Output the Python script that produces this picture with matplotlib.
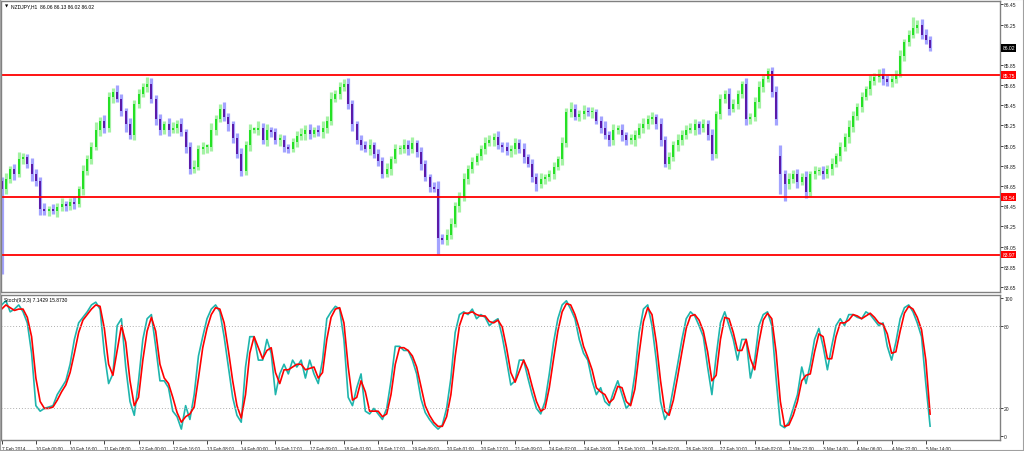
import numpy as np
import matplotlib
matplotlib.use("Agg")
import matplotlib.pyplot as plt
import matplotlib.transforms as mtransforms
from matplotlib.patches import Rectangle

plt.rcParams['font.family'] = ['Liberation Sans', 'DejaVu Sans']

# NZDJPY closes (one value per 2 hours)
closes = [
    84.62, 84.72, 84.82, 84.77, 84.92, 84.94, 84.87, 84.77,
    84.70, 84.42, 84.40, 84.42, 84.40, 84.44, 84.47, 84.45,
    84.49, 84.47, 84.62, 84.80, 84.92, 85.04, 85.21, 85.29,
    85.23, 85.53, 85.58, 85.51, 85.39, 85.26, 85.16, 85.46,
    85.56, 85.63, 85.66, 85.51, 85.31, 85.21, 85.26, 85.21,
    85.23, 85.26, 85.19, 85.04, 84.82, 84.84, 85.02, 85.04,
    85.04, 85.21, 85.31, 85.41, 85.33, 85.26, 85.13, 84.97,
    84.80, 85.06, 85.21, 85.21, 85.23, 85.11, 85.21, 85.19,
    85.11, 85.11, 85.04, 85.02, 85.09, 85.15, 85.17, 85.21,
    85.17, 85.21, 85.19, 85.23, 85.29, 85.51, 85.56, 85.63,
    85.66, 85.46, 85.26, 85.11, 85.06, 85.02, 85.06, 84.97,
    84.90, 84.77, 84.82, 84.92, 85.02, 85.02, 85.06, 85.02,
    85.08, 84.99, 84.87, 84.74, 84.64, 84.62, 84.14, 84.12,
    84.17, 84.27, 84.45, 84.54, 84.72, 84.82, 84.89, 84.95,
    85.02, 85.08, 85.11, 85.14, 85.06, 85.04, 85.00, 85.02,
    85.08, 85.02, 84.94, 84.87, 84.74, 84.67, 84.72, 84.74,
    84.77, 84.84, 84.92, 85.08, 85.38, 85.41, 85.33, 85.36,
    85.39, 85.38, 85.38, 85.29, 85.23, 85.16, 85.11, 85.21,
    85.21, 85.16, 85.11, 85.11, 85.16, 85.23, 85.26, 85.31,
    85.33, 85.26, 85.11, 84.87, 84.94, 85.06, 85.11, 85.16,
    85.21, 85.21, 85.26, 85.23, 85.26, 85.16, 84.97, 85.36,
    85.51, 85.56, 85.41, 85.46, 85.56, 85.66, 85.31, 85.33,
    85.48, 85.63, 85.71, 85.79, 85.58, 85.31, 84.77, 84.67,
    84.72, 84.77, 84.69, 84.74, 84.59, 84.77, 84.80, 84.80,
    84.77, 84.82, 84.87, 84.95, 85.04, 85.14, 85.24, 85.34,
    85.43, 85.53, 85.61, 85.69, 85.73, 85.76, 85.71, 85.68,
    85.71, 85.76, 85.94, 86.08, 86.15, 86.22, 86.25, 86.15,
    86.10, 86.02,
]
first_open = 84.70
gap_opens = {182: 84.95}   # weekend gap

# wick lengths above / below the body, in pips
wick_up = [
    4, 6, 3, 5, 7, 4, 3, 6, 5, 4, 6, 3, 5, 4, 6, 3, 4, 5, 3, 6, 4, 5, 7, 4,
    6, 5, 4, 7, 5, 3, 6, 4, 5, 4, 7, 6, 4, 5, 3, 6, 5, 4, 6, 3, 5, 7, 4, 5,
    3, 6, 4, 5, 7, 4, 3, 5, 6, 4, 5, 3, 6, 4, 5, 3, 4, 6, 5, 3, 4, 5, 6, 4,
    5, 3, 4, 6, 5, 7, 4, 5, 5, 6, 4, 3, 5, 4, 6, 3, 5, 4, 6, 3, 5, 4, 6, 5,
    6, 3, 5, 4, 3, 5, 8, 4, 5, 6, 4, 5, 6, 4, 5, 3, 4, 6, 5, 4, 6, 3, 5, 4,
    5, 4, 6, 3, 5, 4, 6, 3, 4, 5, 3, 6, 4, 7, 5, 4, 6, 4, 5, 3, 5, 6, 4, 5,
    4, 5, 3, 6, 5, 4, 6, 4, 5, 3, 6, 4, 5, 4, 6, 5, 4, 6, 5, 3, 5, 4, 6, 3,
    5, 4, 6, 5, 4, 3, 6, 4, 5, 6, 4, 3, 4, 6, 11, 4, 6, 4, 5, 4, 6, 3, 5, 4,
    5, 4, 6, 3, 5, 4, 6, 5, 4, 5, 3, 6, 4, 5, 6, 4, 5, 4, 6, 3, 5, 10, 4, 5,
    6, 4,
]
wick_dn = [
    84, 5, 4, 6, 3, 5, 4, 7, 5, 6, 4, 5, 3, 6, 4, 5, 4, 5, 3, 6, 4, 5, 3, 6,
    5, 4, 6, 3, 5, 7, 4, 5, 4, 3, 5, 4, 6, 5, 4, 6, 3, 5, 4, 6, 5, 4, 3, 5,
    6, 4, 5, 3, 4, 6, 5, 4, 5, 4, 6, 3, 5, 4, 6, 5, 4, 6, 5, 4, 3, 5, 4, 6,
    5, 3, 4, 6, 5, 4, 3, 5, 4, 5, 6, 4, 5, 3, 6, 4, 5, 4, 3, 6, 4, 5, 4, 6,
    4, 5, 6, 4, 5, 3, 16, 4, 5, 4, 3, 6, 4, 5, 4, 3, 4, 5, 3, 6, 4, 5, 4, 6,
    5, 4, 6, 3, 5, 7, 4, 5, 4, 5, 3, 6, 4, 5, 3, 4, 5, 4, 6, 3, 5, 4, 6, 5,
    4, 6, 5, 4, 6, 3, 5, 4, 5, 4, 6, 3, 5, 4, 6, 5, 4, 3, 5, 6, 4, 5, 6, 4,
    5, 4, 6, 3, 5, 4, 6, 5, 4, 6, 5, 3, 5, 6, 20, 17, 5, 4, 6, 3, 6, 4, 5, 4,
    5, 4, 6, 3, 5, 4, 6, 5, 4, 5, 3, 6, 4, 5, 6, 4, 5, 4, 3, 5, 4, 3, 5, 4,
    4, 3,
]

# Stochastic %K / %D
stoch_k = [
    95, 98, 90, 92, 95, 90, 82, 60, 22, 18, 20, 21, 22, 30, 35, 40,
    52, 70, 82, 86, 90, 95, 97, 92, 60, 38, 45, 80, 85, 50, 25, 15,
    40, 70, 85, 88, 65, 40, 40, 35, 18, 14, 5, 22, 12, 30, 58, 72,
    85, 92, 95, 90, 72, 50, 28, 15, 10, 50, 72, 72, 55, 55, 70, 60,
    30, 45, 52, 45, 55, 50, 55, 42, 55, 45, 38, 55, 85, 90, 94, 92,
    70, 28, 22, 35, 45, 18, 16, 20, 16, 12, 20, 40, 65, 65, 62, 62,
    55, 45, 27, 17, 12, 8, 5, 8, 20, 42, 75, 88, 90, 88, 92, 85,
    88, 86, 80, 83, 85, 72, 55, 37, 40, 55, 55, 42, 30, 20, 16, 25,
    45, 68, 85, 95, 98, 92, 85, 70, 60, 55, 40, 30, 35, 25, 22, 32,
    40, 30, 20, 24, 45, 75, 92, 95, 80, 55, 25, 12, 18, 35, 52, 70,
    85, 90, 87, 80, 72, 50, 30, 58, 82, 90, 80, 70, 55, 70, 70, 42,
    55, 80, 88, 90, 80, 42, 8, 6, 10, 20, 30, 50, 38, 52, 70, 78,
    65, 48, 65, 80, 85, 80, 88, 88, 86, 85, 90, 88, 84, 80, 82, 65,
    55, 68, 85, 93, 95, 90, 82, 72, 38, 7.14,
]
stoch_d = [
    92, 95, 93, 91, 92, 92, 86, 72, 42, 25, 20, 20, 21, 26, 32, 37,
    46, 60, 75, 84, 88, 92, 95, 94, 78, 52, 44, 62, 80, 68, 40, 22,
    28, 55, 76, 86, 76, 52, 42, 38, 28, 17, 10, 14, 16, 21, 42, 64,
    78, 88, 93, 92, 82, 62, 40, 22, 13, 30, 60, 72, 64, 56, 62, 64,
    46, 38, 48, 48, 50, 52, 52, 48, 49, 50, 42, 46, 70, 86, 92, 93,
    82, 50, 26, 28, 40, 32, 18, 18, 18, 14, 16, 30, 52, 64, 64, 62,
    58, 50, 36, 22, 15, 10, 7, 7, 14, 30, 58, 80, 89, 89, 90, 88,
    87, 87, 83, 82, 84, 79, 64, 46, 39, 47, 55, 48, 36, 25, 18, 20,
    35, 56, 76, 90, 96, 95, 88, 78, 65, 57, 48, 35, 32, 30, 24, 27,
    36, 35, 25, 22, 34, 60, 83, 93, 88, 68, 40, 18, 15, 26, 43, 61,
    78, 87, 88, 84, 76, 61, 40, 44, 70, 86, 85, 75, 62, 62, 70, 56,
    48, 68, 84, 89, 85, 61, 25, 7, 8, 15, 25, 40, 44, 45, 61, 74,
    72, 56, 56, 72, 82, 82, 84, 88, 87, 85, 87, 89, 86, 82, 81, 74,
    60, 61, 76, 89, 94, 92, 86, 77, 55, 15.87,
]

levels = [85.75, 84.54, 83.97]
last_price = 86.02
price_ticks = [83.65, 83.85, 84.05, 84.25, 84.45, 84.65, 84.85, 85.05,
               85.25, 85.45, 85.65, 85.85, 86.25, 86.45]
time_labels = [
    "7 Feb 2014", "10 Feb 00:00", "10 Feb 16:00", "11 Feb 08:00",
    "12 Feb 00:00", "12 Feb 16:00", "13 Feb 08:00", "14 Feb 00:00",
    "16 Feb 17:00", "17 Feb 09:00", "18 Feb 01:00", "18 Feb 17:00",
    "19 Feb 09:00", "20 Feb 01:00", "20 Feb 17:00", "21 Feb 09:00",
    "24 Feb 02:00", "24 Feb 18:00", "25 Feb 10:00", "26 Feb 02:00",
    "26 Feb 18:00", "27 Feb 10:00", "28 Feb 02:00", "2 Mar 22:00",
    "3 Mar 14:00", "4 Mar 06:00", "4 Mar 22:00", "5 Mar 14:00",
]

n = len(closes)
c = np.array(closes)
o = np.r_[first_open, c[:-1]]
for k, v in gap_opens.items():
    o[k] = v
body_lo = np.minimum(o, c)
body_hi = np.maximum(np.maximum(o, c), body_lo + 0.012)
hi = np.maximum(o, c) + np.array(wick_up[:n]) / 100
lo = body_lo - np.array(wick_dn[:n]) / 100
x = np.arange(n)
bull = c >= o

fig = plt.figure(figsize=(10.24, 4.52), dpi=100)
ax = fig.add_axes([1 / 1024, 159 / 452, 999 / 1024, 291 / 452])
ax2 = fig.add_axes([1 / 1024, 11 / 452, 999 / 1024, 145 / 452])

frame = "#808080"
fs = 3.6

# --- price panel
ax.vlines(x[bull], lo[bull], hi[bull], color="#a4f2a4", lw=2.3)
ax.vlines(x[~bull], lo[~bull], hi[~bull], color="#a3a3ff", lw=2.3)
ax.vlines(x[bull], body_lo[bull], body_hi[bull], color="#22e022", lw=1.4)
ax.vlines(x[~bull], body_lo[~bull], body_hi[~bull], color="#5a17a6", lw=1.4)
for lvl in levels:
    ax.axhline(lvl, color="red", lw=1.3)

xmin = -0.15
xmax = xmin + 999 / 4.2786
ax.set_xlim(xmin, xmax)
ax.set_ylim(83.601, 86.483)
ax.set_xticks([])
ax.yaxis.tick_right()
ax.set_yticks(price_ticks)
ax.set_yticklabels([f"{v:.2f}" for v in price_ticks], fontsize=fs)
ax.tick_params(axis="y", length=2, width=0.6, pad=1, colors="#202020")

trans = mtransforms.blended_transform_factory(ax.transAxes, ax.transData)
for lvl in levels:
    ax.text(1.0025, lvl, f"{lvl:.2f}", transform=trans, fontsize=fs,
            color="white", va="center", ha="left", clip_on=False,
            bbox=dict(boxstyle="square,pad=0.25", fc="red", ec="none"))
ax.text(1.0025, last_price, f"{last_price:.2f}", transform=trans, fontsize=fs,
        color="white", va="center", ha="left", clip_on=False,
        bbox=dict(boxstyle="square,pad=0.3", fc="black", ec="none"))

ax.text(0.004, 0.984, "\u25bc", transform=ax.transAxes, fontsize=3.0,
        va="center", ha="left", family="DejaVu Sans")
ax.text(0.0105, 0.984, "NZDJPY,H1  86.06 86.13 86.02 86.02",
        transform=ax.transAxes, fontsize=fs, va="center", ha="left")

# --- stochastic panel
ax2.plot(x, stoch_k[:n], color="#1fb5ad", lw=1.2)
ax2.plot(x, stoch_d[:n], color="red", lw=1.2)
for lvl in (20, 80):
    ax2.axhline(lvl, color="#b0b0b0", lw=0.7, ls=(0, (1, 2)))
ax2.set_xlim(xmin, xmax)
ax2.set_ylim(-2.9, 102.2)
ax2.yaxis.tick_right()
ax2.set_yticks([0, 20, 80, 100])
ax2.set_yticklabels(["0", "20", "80", "100"], fontsize=fs)
ax2.tick_params(axis="y", length=2, width=0.6, pad=1, colors="#202020")
ax2.set_xticks(np.arange(len(time_labels)) * 8)
ax2.set_xticklabels(time_labels, fontsize=3.3)
for lbl in ax2.get_xticklabels():
    lbl.set_ha("left")
ax2.tick_params(axis="x", length=3, width=0.6, pad=1, colors="#202020")
ax2.text(0.003, 0.985, "Stoch(9,3,3) 7.1429 15.8730", transform=ax2.transAxes,
         fontsize=fs, va="top", ha="left")

for a in (ax, ax2):
    for s in a.spines.values():
        s.set_color(frame)
        s.set_linewidth(1.0)

fig.patches.append(Rectangle((0, 0), 1, 1, transform=fig.transFigure,
                             fill=False, ec="#a0a0a0", lw=1.5))

fig.savefig("out.png", dpi=100, facecolor="white")
